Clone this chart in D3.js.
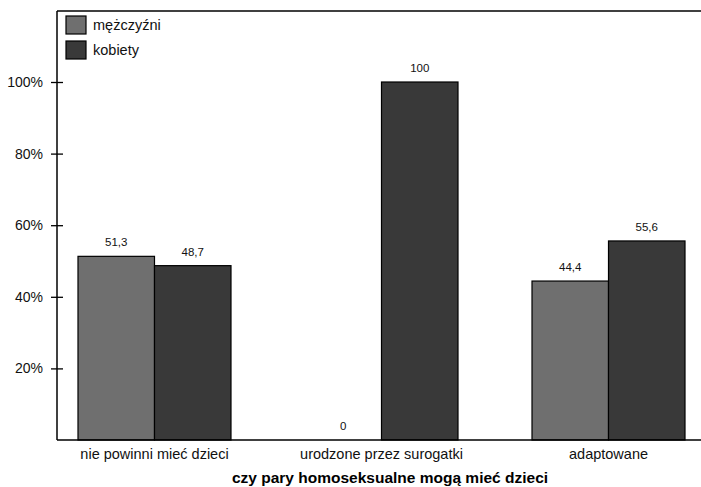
<!DOCTYPE html>
<html><head><meta charset="utf-8">
<script src="https://cdn.jsdelivr.net/npm/d3@7"></script>
<style>body{margin:0;background:#fff;} text{font-family:Arial,"Liberation Sans",sans-serif;}</style>
</head><body><svg id="c" width="701" height="487"></svg>
<script>
const categories = ["nie powinni mieć dzieci", "urodzone przez surogatki", "adaptowane"];
const seriesNames = ["mężczyźni", "kobiety"];
const men = [51.3, 0, 44.4];
const women = [48.7, 100, 55.6];
const yTicks = [20, 40, 60, 80, 100];
const xTitle = "czy pary homoseksualne mogą mieć dzieci";
const colors = ["#6f6f6f", "#393939"];

(function () {
const svg = d3.select("#c");
const pLeft = 57, pRight = 706, pTop = 11, pBottom = 440;
const x = d3.scaleBand().domain(categories).range([pLeft, pRight]).paddingInner(0.326).paddingOuter(0.0925);
const xs = d3.scaleBand().domain(seriesNames).range([0, x.bandwidth()]);
const y = d3.scaleLinear().domain([0, 100]).range([pBottom, 82]);
const fmt = v => String(v).replace(".", ",");

const data = categories.map((c, i) => ({c, vals: [men[i], women[i]]}));

svg.append("line").attr("x1", pLeft).attr("x2", 701).attr("y1", pTop).attr("y2", pTop).attr("stroke", "#000").attr("stroke-width", 1.5);

const g = svg.selectAll("g.grp").data(data).join("g").attr("class", "grp")
  .attr("transform", d => `translate(${x(d.c)},0)`);
g.selectAll("rect").data(d => d.vals.map((v, j) => ({v, s: seriesNames[j], j})))
  .join("rect")
  .attr("x", d => xs(d.s)).attr("width", xs.bandwidth())
  .attr("y", d => y(d.v)).attr("height", d => pBottom - y(d.v))
  .attr("fill", d => colors[d.j]).attr("stroke", d => d.v > 0 ? "#000" : "none").attr("stroke-width", 1.2);
g.selectAll("text.val").data(d => d.vals.map((v, j) => ({v, s: seriesNames[j]})))
  .join("text").attr("class", "val")
  .attr("x", d => xs(d.s) + xs.bandwidth() / 2).attr("y", d => y(d.v) - 10)
  .attr("text-anchor", "middle").attr("font-size", 11.5).attr("fill", "#111")
  .text(d => fmt(d.v));

const ya = svg.append("g").attr("transform", `translate(${pLeft},0)`)
  .call(d3.axisLeft(y).tickValues(yTicks).tickSize(6).tickFormat(d => d + "%"));
ya.select(".domain").remove();
ya.selectAll(".tick line").attr("x1", -6).attr("x2", 6).attr("stroke", "#000").attr("stroke-width", 1.3);
ya.selectAll(".tick text").attr("x", -14).attr("font-size", 14).attr("fill", "#111").attr("font-family", "Arial,'Liberation Sans',sans-serif");
svg.append("line").attr("x1", pLeft).attr("x2", pLeft).attr("y1", pTop).attr("y2", pBottom).attr("stroke", "#000").attr("stroke-width", 1.5);

const xa = svg.append("g").attr("transform", `translate(0,${pBottom})`)
  .call(d3.axisBottom(x).tickSize(0).tickPadding(9));
xa.select(".domain").attr("stroke", "#000").attr("stroke-width", 1.5).attr("d", `M${pLeft},0H701`);
xa.selectAll(".tick text").attr("font-size", 14.5).attr("fill", "#111").attr("font-family", "Arial,'Liberation Sans',sans-serif").attr("dy", "0.71em");

svg.append("text").attr("x", 390).attr("y", 483).attr("text-anchor", "middle")
  .attr("font-size", 15.5).attr("font-weight", "bold").attr("fill", "#000").text(xTitle);

const lg = svg.append("g");
seriesNames.forEach((s, i) => {
  lg.append("rect").attr("x", 66).attr("y", 16 + i * 25).attr("width", 20).attr("height", 18)
    .attr("fill", colors[i]).attr("stroke", "#000").attr("stroke-width", 1.2);
  lg.append("text").attr("x", 93).attr("y", 30 + i * 25).attr("font-size", 14.5).attr("fill", "#111").text(s);
});
})();
</script></body></html>
